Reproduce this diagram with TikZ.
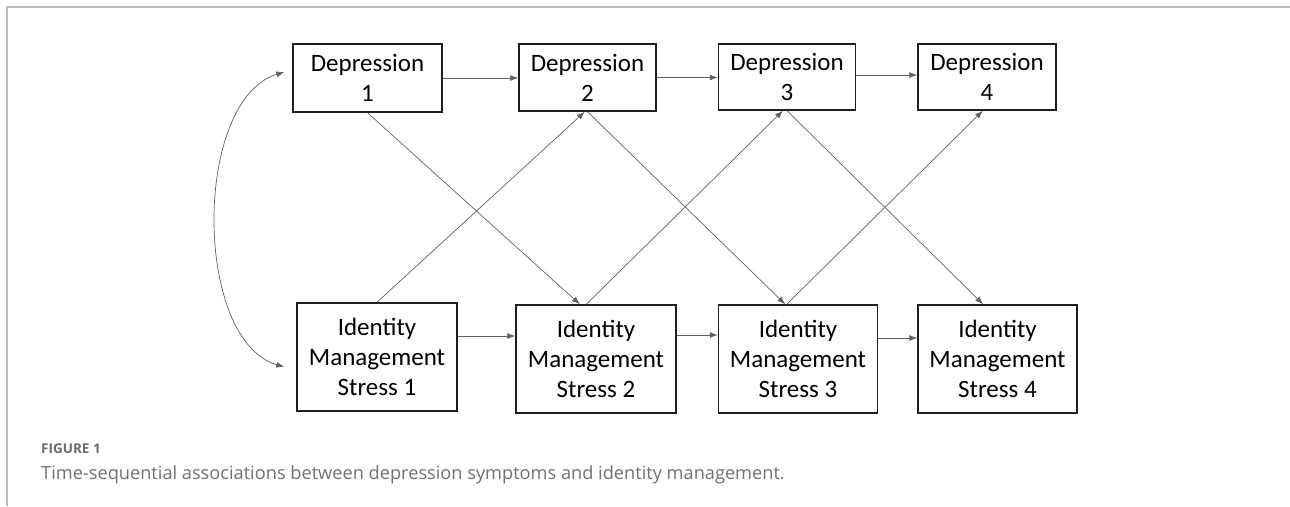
\documentclass[tikz,border=0pt]{standalone}
\usepackage{fontspec}
\setmainfont{Carlito}
\newfontfamily\capfont{Open Sans}
\usetikzlibrary{arrows.meta,calc}
\begin{document}
\begin{tikzpicture}[x=1pt,y=-1pt,
  >={Latex[length=8pt,width=6pt]},
  box/.style={draw=black!88,line width=1.5pt,inner sep=0pt,align=center,
    font=\fontsize{25}{30}\selectfont},
  link/.style={draw=black!62,line width=0.7pt,->},
  frameline/.style={draw=black!25,line width=1.2pt}]
\useasboundingbox (0,0) rectangle (1290,506);
\draw[frameline] (7,506) -- (7,7) -- (1290,7);
% top row
\node[box,minimum width=149pt,minimum height=68pt] (d1) at (367.5,78) {Depression\\1};
\node[box,minimum width=137pt,minimum height=67pt] (d2) at (587.5,77.5) {Depression\\2};
\node[box,minimum width=137pt,minimum height=66pt] (d3) at (787,77) {Depression\\3};
\node[box,minimum width=138pt,minimum height=66pt] (d4) at (987,77) {Depression\\4};
% bottom row
\node[box,minimum width=160pt,minimum height=108pt] (i1) at (377,357) {Identity\\Management\\Stress 1};
\node[box,minimum width=160pt,minimum height=108pt] (i2) at (596,359) {Identity\\Management\\Stress 2};
\node[box,minimum width=159pt,minimum height=108pt] (i3) at (798,359) {Identity\\Management\\Stress 3};
\node[box,minimum width=159pt,minimum height=108pt] (i4) at (997.5,359) {Identity\\Management\\Stress 4};
% horizontal paths
\draw[link] (d1.east) -- (d1.east -| d2.west);
\draw[link] (d2.east) -- (d2.east -| d3.west);
\draw[link] ([yshift=2pt]d3.east) -- ([yshift=2pt]d3.east -| d4.west);
\draw[link] ([yshift=21pt]i1.east) -- ([yshift=21pt]i1.east -| i2.west);
\draw[link] ([yshift=24pt]i2.east) -- ([yshift=24pt]i2.east -| i3.west);
\draw[link] ([yshift=21pt]i3.east) -- ([yshift=21pt]i3.east -| i4.west);
% cross-lagged paths
\draw[link] (d1.south) -- ($(i2.north west)!0.40!(i2.north east)$);
\draw[link] (i1.north) -- ($(d2.south west)!0.48!(d2.south east)$);
\draw[link] (d2.south) -- ($(i3.north west)!0.42!(i3.north east)$);
\draw[link] ($(i2.north west)!0.44!(i2.north east)$) -- ($(d3.south west)!0.47!(d3.south east)$);
\draw[link] (d3.south) -- ($(i4.north west)!0.41!(i4.north east)$);
\draw[link] ($(i3.north west)!0.43!(i3.north east)$) -- ($(d4.south west)!0.47!(d4.south east)$);
% correlation
\coordinate (ct) at ([xshift=-8pt,yshift=6pt]d1.west);
\coordinate (cb) at ([xshift=-12pt,yshift=-10pt]i1.west);
\draw[link,<->] (ct) .. controls (193,100) and (193,340) .. (cb);
% caption
\node[anchor=base west,inner sep=0pt,text=black!58,font=\capfont\bfseries\fontsize{13.5}{16}\selectfont] (figlabel) at (41,453) {FIGURE 1};
\node[anchor=base west,inner sep=0pt,text=black!56,font=\capfont\fontsize{18.2}{21}\selectfont] (caption) at (41,479) {Time-sequential associations between depression symptoms and identity management.};
\end{tikzpicture}
\end{document}
